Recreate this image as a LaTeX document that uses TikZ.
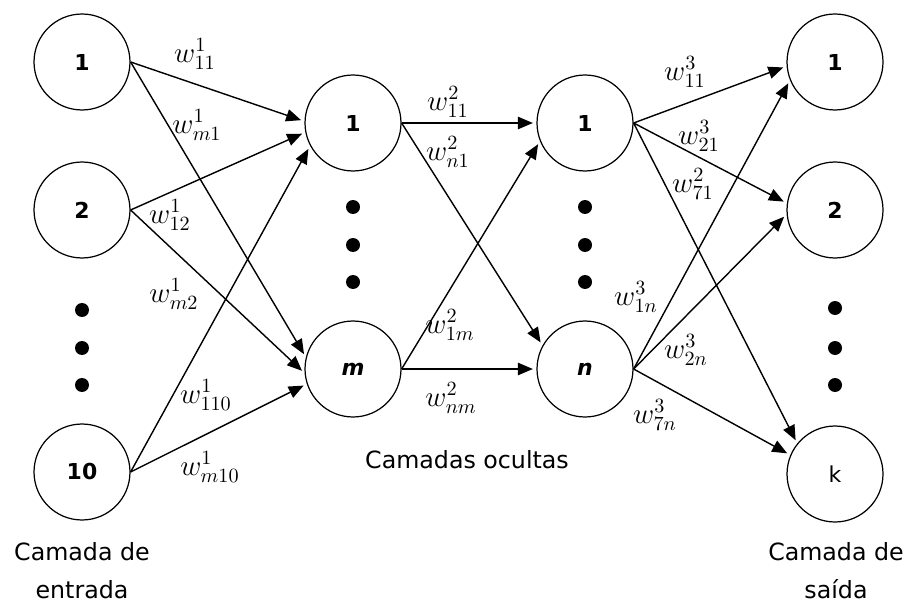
\documentclass[tikz,border=0pt]{standalone}
\usepackage{fontspec}
\setsansfont{DejaVu Sans}
\usetikzlibrary{arrows.meta}

\tikzset{
  neuronio/.style={draw, circle, line width=0.7pt, minimum size=1.92cm, inner sep=0pt,
    font=\sffamily\bfseries\fontsize{12.5}{14}\selectfont},
  seta/.style={-{Triangle[length=8.5pt,width=7pt]}, line width=0.8pt, shorten >=2pt},
  peso/.style={font=\Large, inner sep=0pt, scale=1.15, transform shape},
  camada/.style={align=center, font=\sffamily\fontsize{13.5}{21.6}\selectfont},
}

\begin{document}
\begin{tikzpicture}[x=0.02cm, y=-0.02cm]
        \useasboundingbox (0,0) rectangle (908,604);

        % camada de entrada
        \node[neuronio] (e1) at (82,62) {1};
        \node[neuronio] (e2) at (82,210) {2};
        \node[neuronio] (e10) at (82,472) {10};
        \fill (82,310) circle (0.14cm) (82,348) circle (0.14cm) (82,385) circle (0.14cm);

        % camadas ocultas
        \node[neuronio] (a1) at (353,123) {1};
        \node[neuronio] (am) at (353,369) {\itshape m};
        \fill (353,207) circle (0.14cm) (353,245) circle (0.14cm) (353,282) circle (0.14cm);

        \node[neuronio] (b1) at (585,123) {1};
        \node[neuronio] (bn) at (585,369) {\itshape n};
        \fill (585,207) circle (0.14cm) (585,245) circle (0.14cm) (585,282) circle (0.14cm);

        % camada de saida
        \node[neuronio] (s1) at (835,62) {1};
        \node[neuronio] (s2) at (835,210) {2};
        \node[neuronio] (sk) at (835,474) {\mdseries k};
        \fill (835,308) circle (0.14cm) (835,348) circle (0.14cm) (835,385) circle (0.14cm);

        % pesos 1
        \draw[seta] (e1.east) -- (a1.178);
        \draw[seta] (e1.east) -- (am.166);
        \draw[seta] (e2.east) -- (a1.191);
        \draw[seta] (e2.east) -- (am.185);
        \draw[seta] (e10.east) -- (a1.208);
        \draw[seta] (e10.east) -- (am.198);

        % pesos 2
        \draw[seta] (a1.east) -- (b1.west);
        \draw[seta] (a1.east) -- (bn.151);
        \draw[seta] (am.east) -- (b1.202);
        \draw[seta] (am.east) -- (bn.west);

        % pesos 3
        \draw[seta] (b1.east) -- (s1.185);
        \draw[seta] (b1.east) -- (s2.172);
        \draw[seta] (b1.east) -- (sk.141);
        \draw[seta] (bn.east) -- (s1.202);
        \draw[seta] (bn.east) -- (s2.185);
        \draw[seta] (bn.east) -- (sk.157);

        \node[peso] (w111) at (195,54) {$w^{1}_{11}$};
        \node[peso] (wm1) at (197,125) {$w^{1}_{m1}$};
        \node[peso] (w112) at (170,215) {$w^{1}_{12}$};
        \node[peso] (wm2) at (174,294) {$w^{1}_{m2}$};
        \node[peso] (w1110) at (206,395) {$w^{1}_{110}$};
        \node[peso] (wm10) at (210,467) {$w^{1}_{m10}$};

        \node[peso] (w211) at (448,102) {$w^{2}_{11}$};
        \node[peso] (wn1) at (448,152) {$w^{2}_{n1}$};
        \node[peso] (w21m) at (450,325) {$w^{2}_{1m}$};
        \node[peso] (wnm) at (451,398) {$w^{2}_{nm}$};

        \node[peso] (w311) at (685,72) {$w^{3}_{11}$};
        \node[peso] (w321) at (699,136) {$w^{3}_{21}$};
        \node[peso] (w271) at (693,184) {$w^{2}_{71}$};
        \node[peso] (w31n) at (636,297) {$w^{3}_{1n}$};
        \node[peso] (w32n) at (686,350) {$w^{3}_{2n}$};
        \node[peso] (w37n) at (655,415) {$w^{3}_{7n}$};

        \node[camada] (entrada) at (82,571) {Camada de\\entrada};
        \node[camada] (ocultas) at (467,460) {Camadas ocultas};
        \node[camada] (saida) at (836,571) {Camada de\\saída};
    \end{tikzpicture}
\end{document}
